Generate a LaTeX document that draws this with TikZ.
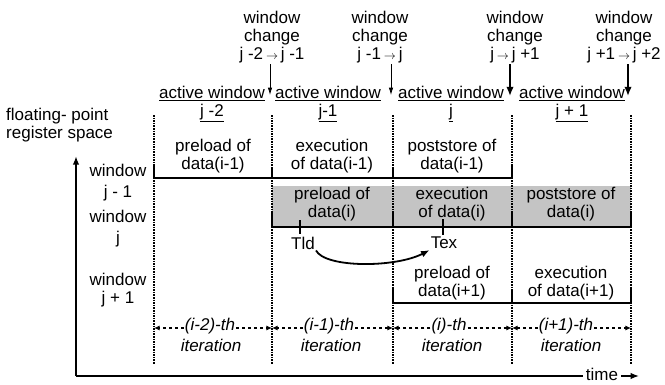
\documentclass[tikz,border=0pt]{standalone}
\usepackage{fontspec}
\setmainfont{Liberation Sans}
\usetikzlibrary{arrows.meta,positioning,calc}
\definecolor{bandgray}{HTML}{C4C4C4}
\newcommand{\chgto}{\,{\fontsize{13}{13}\selectfont$\rightarrow$}\,}

\begin{document}
\begin{tikzpicture}[x=1pt,y=-1pt,every node/.style={font=\fontsize{17}{18}\selectfont,inner sep=1pt},>={Latex[length=3mm]},
  lbl/.style={align=center},
  itlbl/.style={font=\fontsize{17}{18}\selectfont\itshape},
  bar/.style={line width=2.4pt},
  colline/.style={densely dotted,line width=1.6pt},
  chg/.style={->,line width=0.8pt,>={Latex[length=2.6mm,width=1.6mm]}},
  chgbold/.style={->,line width=1.6pt,>={Latex[length=3.2mm,width=2.6mm]}},
  iter/.style={->,dash pattern=on 3pt off 3pt,line width=1.3pt,>={Latex[length=2mm,width=1.8mm]}},
  axis/.style={line width=2pt}]
  \useasboundingbox (0,0) rectangle (665,384);

  % window changes
  \node[lbl,anchor=south] (wc1) at (272,64) {window\\change\\j -2\chgto j -1};
  \node[lbl,anchor=south] (wc2) at (380,64) {window\\change\\j -1\chgto j};
  \node[lbl,anchor=south] (wc3) at (515,64) {window\\change\\j\chgto j +1};
  \node[lbl,anchor=south] (wc4) at (624,64) {window\\change\\j +1\chgto j +2};
  \coordinate (ch1) at (270,95);
  \coordinate (ch2) at (391,95);
  \coordinate (ch3) at (510,96);
  \coordinate (ch4) at (628,96);
  \draw[chg] (wc1.south -| ch1) -- (ch1);
  \draw[chg] (wc2.south -| ch2) -- (ch2);
  \draw[chgbold] (wc3.south -| ch3) -- (ch3);
  \draw[chgbold] (wc4.south -| ch4) -- (ch4);

  % active windows
  \node[lbl] (aw1) at (212,104) {\underline{active window}\\\underline{j -2}};
  \node[lbl] (aw2) at (328,104) {\underline{active window}\\\underline{j-1}};
  \node[lbl] (aw3) at (451,104) {\underline{active window}\\\underline{j}};
  \node[lbl] (aw4) at (572,104) {\underline{active window}\\\underline{j + 1}};

  \node[align=left,anchor=west] (space) at (5,125) {floating- point\\register space};

  % shaded window j
  \fill[bandgray] (272,186) rectangle (631,227);

  % column borders
  \draw[colline] (154,115) -- (154,364);
  \draw[colline] (272,115) -- (272,364);
  \draw[colline] (393,115) -- (393,364);
  \draw[colline] (512,115) -- (512,364);
  \draw[colline] (631,115) -- (631,364);

  % window j-1
  \node[lbl] (w1) at (118,183) {window\\[3pt]j - 1};
  \draw[bar] (154,166) -- (154,178) -- (512,178) -- (512,166);
  \draw[bar] (272,169) -- (272,178);
  \draw[bar] (393,168) -- (393,178);
  \node[lbl] (p1) at (213,156) {preload of\\data(i-1)};
  \node[lbl] (e1) at (332,156) {execution\\of data(i-1)};
  \node[lbl] (s1) at (452,156) {poststore of\\data(i-1)};

  % window j
  \node[lbl] (w2) at (118,229) {window\\[3pt]j};
  \draw[bar] (272,213) -- (272,227) -- (631,227) -- (631,212);
  \draw[bar] (393,213) -- (393,227);
  \draw[bar] (512,213) -- (512,227);
  \node[lbl] (p2) at (332,204) {preload of\\data(i)};
  \node[lbl] (e2) at (452,204) {execution\\of data(i)};
  \node[lbl] (s2) at (571,204) {poststore of\\data(i)};

  % Tld and Tex
  \draw[line width=1.3pt] (300,220) -- (300,234);
  \draw[line width=1.3pt] (443,219) -- (443,235);
  \node (tld) at (303,243) {Tld};
  \node (tex) at (444,243) {Tex};
  \draw[->,line width=1.8pt,>={Latex[length=3mm,width=2.4mm]}] (tld.south east) .. controls (325,268) and (395,268) .. (tex.south west);

  % window j+1
  \node[lbl] (w3) at (118,290) {window\\j + 1};
  \draw[bar] (393,288) -- (393,303) -- (631,303) -- (631,288);
  \draw[bar] (512,290) -- (512,303);
  \node[lbl] (p3) at (452,283) {preload of\\data(i+1)};
  \node[lbl] (e3) at (571,283) {execution\\of data(i+1)};

  % iterations
  \coordinate (m0) at (154,328);
  \coordinate (m1) at (272,328);
  \coordinate (m2) at (393,328);
  \coordinate (m3) at (512,328);
  \coordinate (m4) at (631,328);
  \node[itlbl] (it1) at (210,326) {(i-2)-th};
  \node[itlbl] (it2) at (329,326) {(i-1)-th};
  \node[itlbl] (it3) at (449,326) {(i)-th};
  \node[itlbl] (it4) at (566,326) {(i+1)-th};
  \node[itlbl] (itr1) at (211,345) {iteration};
  \node[itlbl] (itr2) at (331,345) {iteration};
  \node[itlbl] (itr3) at (452,345) {iteration};
  \node[itlbl] (itr4) at (571,345) {iteration};
  \draw[iter] (it1.west |- m0) -- (m0);
  \draw[iter] (it1.east |- m0) -- (m1);
  \draw[iter] (it2.west |- m1) -- (m1);
  \draw[iter] (it2.east |- m1) -- (m2);
  \draw[iter] (it3.west |- m2) -- (m2);
  \draw[iter] (it3.east |- m2) -- (m3);
  \draw[iter] (it4.west |- m3) -- (m3);
  \draw[iter] (it4.east |- m3) -- (m4);

  % axes
  \coordinate (ytop) at (76,156);
  \coordinate (orig) at (76,376);
  \node[inner sep=0pt] (time) at (602,374) {time};
  \draw[axis,->] (orig) -- (ytop);
  \draw[axis] (orig) -- ([xshift=-3pt]time.west |- orig);
  \draw[axis,->] ([xshift=3pt]time.east |- orig) -- ++(18,0);
\end{tikzpicture}
\end{document}
